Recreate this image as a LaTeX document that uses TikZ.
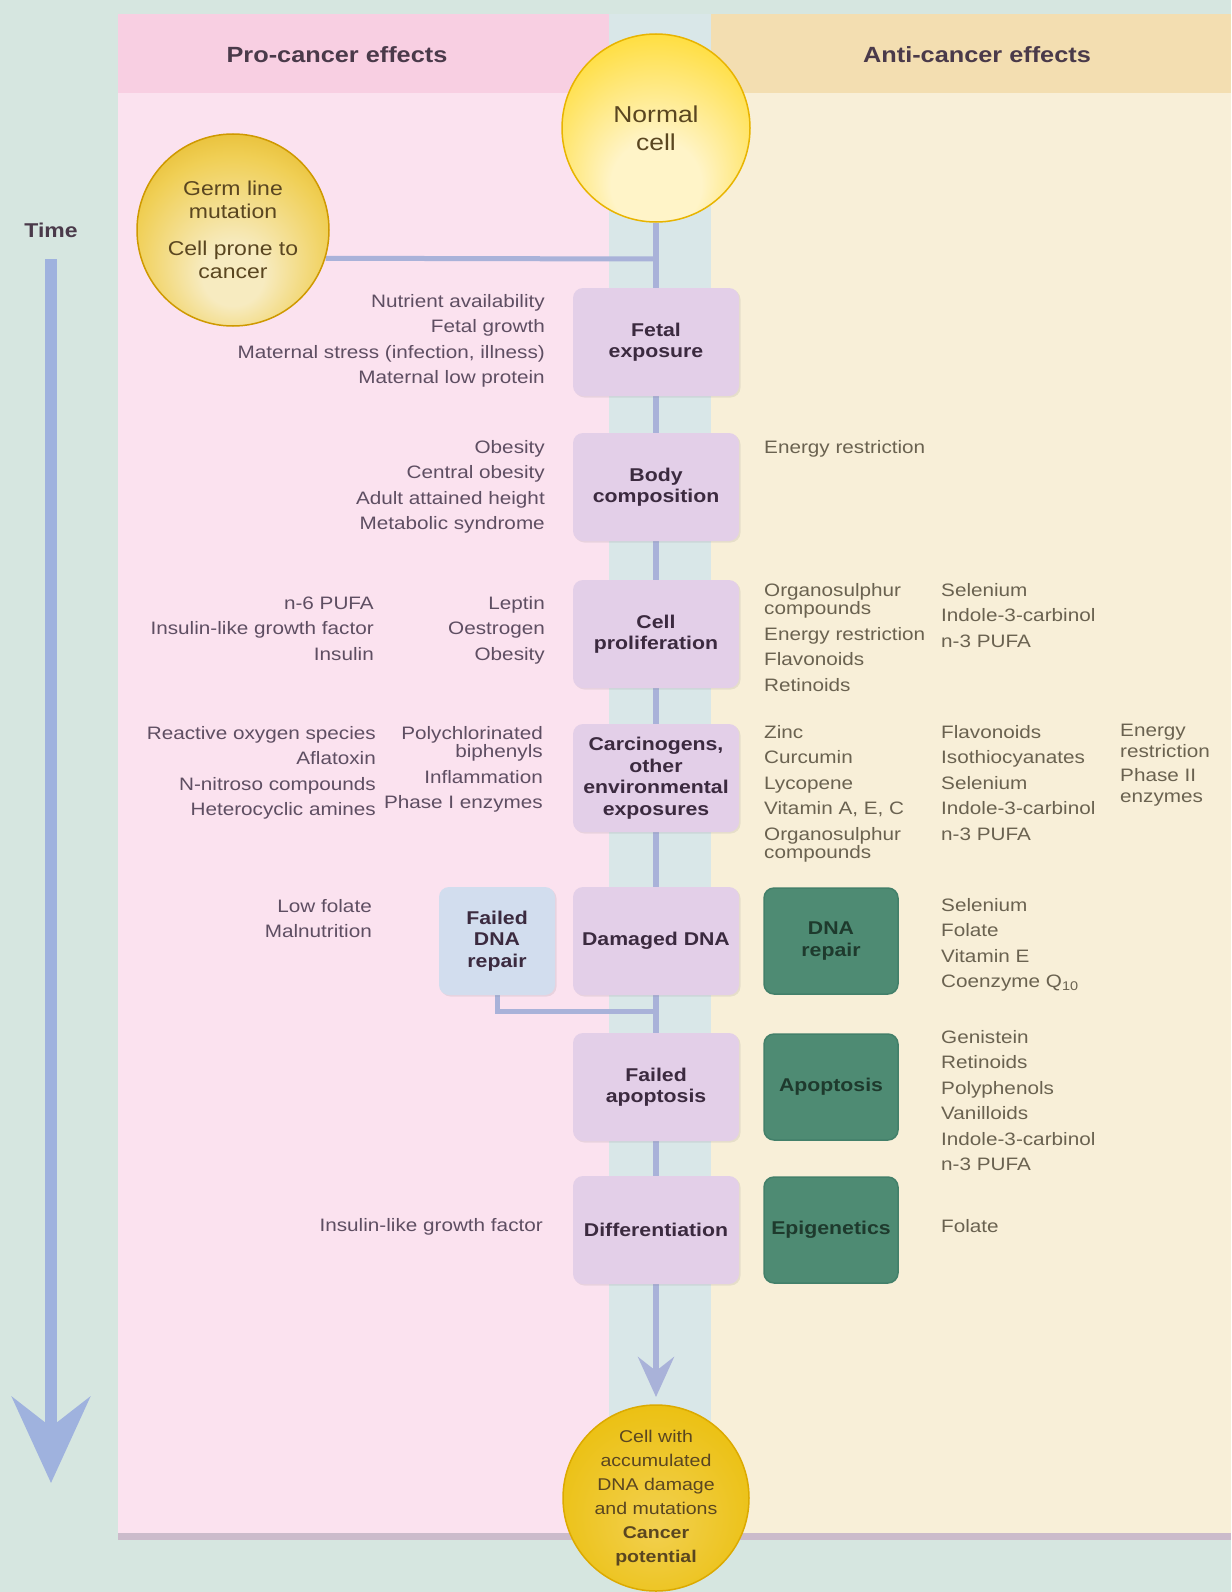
\documentclass[tikz,border=0pt]{standalone}
\usepackage{fontspec}
\setmainfont[FakeStretch=1.15]{Liberation Sans}
\usetikzlibrary{arrows.meta,shadows}
\definecolor{bg}{HTML}{D6E6E0}
\definecolor{strip}{HTML}{D9E7E8}
\definecolor{pinkbody}{HTML}{FBE2EF}
\definecolor{pinkhead}{HTML}{F8CFE2}
\definecolor{creambody}{HTML}{F8EFD8}
\definecolor{creamhead}{HTML}{F3DEB1}
\definecolor{boxp}{HTML}{E3CFE8}
\definecolor{boxblue}{HTML}{D2DDEE}
\definecolor{boxgreen}{HTML}{4E8B73}
\definecolor{greenborder}{HTML}{43806A}
\definecolor{linecol}{HTML}{A9B2D9}
\definecolor{timeblue}{HTML}{9FB2DE}
\definecolor{bottomline}{HTML}{CBBBCB}
\definecolor{lefttext}{HTML}{5E4E62}
\definecolor{righttext}{HTML}{6A6250}
\definecolor{boxtext}{HTML}{3B2A3F}
\definecolor{greentext}{HTML}{1E3A2D}
\definecolor{hdtext}{HTML}{4A3A4A}
\definecolor{celltext}{HTML}{5A4620}
\definecolor{cpale}{HTML}{FFF4C8}
\definecolor{cyellow}{HTML}{FFD81A}
\definecolor{cgold}{HTML}{E8B400}
\definecolor{gpale}{HTML}{F7EBC0}
\definecolor{glight}{HTML}{F0CF55}
\definecolor{ggold}{HTML}{DDAA10}
\definecolor{gdark}{HTML}{CF9900}
\definecolor{bpale}{HTML}{F2D050}
\definecolor{bmid}{HTML}{EBC010}
\definecolor{bgold}{HTML}{DCAA00}
\definecolor{bdark}{HTML}{D09A00}
\pgfdeclareradialshading{ncellshade}{\pgfpoint{0bp}{-20bp}}{color(0bp)=(cpale); color(12bp)=(cpale); color(38bp)=(cyellow); color(46bp)=(cyellow); color(50bp)=(cgold)}
\pgfdeclareradialshading{germshade}{\pgfpoint{0bp}{-14bp}}{color(0bp)=(gpale); color(8bp)=(gpale); color(26bp)=(glight); color(40bp)=(ggold); color(50bp)=(gdark)}
\pgfdeclareradialshading{bcellshade}{\pgfpoint{0bp}{-8bp}}{color(0bp)=(bpale); color(30bp)=(bmid); color(46bp)=(bgold); color(50bp)=(bdark)}
\pgfdeclarelayer{back}
\pgfdeclarelayer{mid}
\pgfsetlayers{back,mid,main}
\newcommand{\Rlist}[1]{\begin{tabular}[t]{@{}r@{}}#1\end{tabular}}
\newcommand{\Llist}[1]{\begin{tabular}[t]{@{}l@{}}#1\end{tabular}}
\newcommand{\itemfont}{\fontsize{18}{25.5}\selectfont}
\newcommand{\boxfont}{\fontsize{18.5}{21.5}\selectfont\bfseries}
\begin{document}
\begin{tikzpicture}[x=1pt,y=-1pt,
  lt/.style={text=lefttext, inner sep=0pt, font=\itemfont},
  rt/.style={text=righttext, inner sep=0pt, font=\itemfont},
  pbox/.style={rounded corners=10pt, fill=boxp, minimum width=166pt, minimum height=108pt, inner sep=0pt, align=center, font=\boxfont, text=boxtext, drop shadow={shadow xshift=1.5pt, shadow yshift=-1.5pt, opacity=0.12, fill=black!60}},
  gbox/.style={rounded corners=10pt, fill=boxgreen, draw=greenborder, line width=1.5pt, minimum width=134pt, minimum height=106pt, inner sep=0pt, align=center, font=\boxfont, text=greentext},
  conn/.style={draw=linecol, line width=6pt},
  cell/.style={circle, inner sep=0pt, draw=cgold, line width=1.5pt, shade, align=center, text=celltext}
]
\useasboundingbox (0,0) rectangle (1231,1592);
\begin{pgfonlayer}{back}
\fill[bg] (0,0) rectangle (1231,1592);
\fill[strip] (609,14) rectangle (711,1534);
\fill[pinkbody] (118,14) rectangle (609,1534);
\fill[pinkhead] (118,14) rectangle (609,93);
\fill[creambody] (711,14) rectangle (1231,1534);
\fill[creamhead] (711,14) rectangle (1231,93);
\draw[bottomline, line width=7pt] (118,1536) -- (1231,1536);
\end{pgfonlayer}

% headers
\node[font=\fontsize{22}{26}\selectfont\bfseries, text=hdtext] (hpro) at (337,55) {Pro-cancer effects};
\node[font=\fontsize{22}{26}\selectfont\bfseries, text=hdtext] (hanti) at (977,55) {Anti-cancer effects};

% time
\node[font=\fontsize{20}{24}\selectfont\bfseries, text=hdtext] (time) at (51,230) {Time};
\coordinate (tstart) at (51,259);
\coordinate (tend) at (51,1483);

% cells
\node[cell, shading=ncellshade, minimum size=188pt, font=\fontsize{23}{28}\selectfont] (ncell) at (656,128) {Normal\\cell};
\node[cell, shading=germshade, draw=gdark, minimum size=192pt, font=\fontsize{20}{23}\selectfont] (germ) at (233,230) {Germ line\\mutation\\[14pt]Cell prone to\\cancer};
\node[cell, shading=bcellshade, draw=bgold, minimum size=186pt, font=\fontsize{17}{24}\selectfont] (bcell) at (656,1498) {Cell with\\accumulated\\DNA damage\\and mutations\\\textbf{Cancer}\\\textbf{potential}};

% main boxes
\node[pbox] (fetal) at (656,342) {Fetal\\exposure};
\node[pbox] (body) at (656,487) {Body\\composition};
\node[pbox] (cprol) at (656,634) {Cell\\proliferation};
\node[pbox] (carc) at (656,778) {Carcinogens,\\other\\environmental\\exposures};
\node[pbox] (dna) at (656,941) {Damaged DNA};
\node[pbox] (fapo) at (656,1087) {Failed\\apoptosis};
\node[pbox] (diff) at (656,1230) {Differentiation};
\node[pbox, fill=boxblue, minimum width=116pt] (fdr) at (497,941) {Failed\\DNA\\repair};
\node[gbox] (rep) at (831,941) {DNA\\repair};
\node[gbox] (apo) at (831,1087) {Apoptosis};
\node[gbox] (epi) at (831,1230) {Epigenetics};

% factor lists
\node[lt, anchor=base east] (fetL) at (545,307) {\Rlist{Nutrient availability\\Fetal growth\\Maternal stress (infection, illness)\\Maternal low protein}};
\node[lt, anchor=base east] (bodL) at (545,453) {\Rlist{Obesity\\Central obesity\\Adult attained height\\Metabolic syndrome}};
\node[rt, anchor=base west] (bodR) at (764,453) {Energy restriction};
\node[lt, anchor=base east] (cpL1) at (374,609) {\Rlist{n-6 PUFA\\Insulin-like growth factor\\Insulin}};
\node[lt, anchor=base east] (cpL2) at (545,609) {\Rlist{Leptin\\Oestrogen\\Obesity}};
\node[rt, anchor=base west] (cpR1) at (764,596) {\Llist{Organosulphur\\[-7pt]compounds\\Energy restriction\\Flavonoids\\Retinoids}};
\node[rt, anchor=base west] (cpR2) at (941,596) {\Llist{Selenium\\Indole-3-carbinol\\n-3 PUFA}};
\node[lt, anchor=base east] (caL1) at (376,739) {\Rlist{Reactive oxygen species\\Aflatoxin\\N-nitroso compounds\\Heterocyclic amines}};
\node[lt, anchor=base east] (caL2) at (543,739) {\Rlist{Polychlorinated\\[-7pt]biphenyls\\Inflammation\\Phase I enzymes}};
\node[rt, anchor=base west] (caR1) at (764,738) {\Llist{Zinc\\Curcumin\\Lycopene\\Vitamin A, E, C\\Organosulphur\\[-7pt]compounds}};
\node[rt, anchor=base west] (caR2) at (941,738) {\Llist{Flavonoids\\Isothiocyanates\\Selenium\\Indole-3-carbinol\\n-3 PUFA}};
\node[rt, anchor=base west] (caR3) at (1120,736) {\Llist{Energy\\[-4pt]restriction\\[-2pt]Phase II\\[-4pt]enzymes}};
\node[lt, anchor=base east] (dnL) at (372,912) {\Rlist{Low folate\\Malnutrition}};
\node[rt, anchor=base west] (dnR) at (941,911) {\Llist{Selenium\\Folate\\Vitamin E\\Coenzyme Q\textsubscript{10}}};
\node[rt, anchor=base west] (apR) at (941,1043) {\Llist{Genistein\\Retinoids\\Polyphenols\\Vanilloids\\Indole-3-carbinol\\n-3 PUFA}};
\node[lt, anchor=base east] (dfL) at (543,1231) {Insulin-like growth factor};
\node[rt, anchor=base west] (dfR) at (941,1232) {Folate};

% connectors
\coordinate (jgerm) at (656,259);
\coordinate (jfdr) at (656,1011);
\coordinate (tip) at (656,1397);
\begin{pgfonlayer}{mid}
\draw[timeblue, line width=12pt, -{Stealth[length=86pt,width=78pt,inset=30pt]}] (tstart) -- (tend);
\draw[conn] (ncell) -- (fetal);
\draw[conn] (fetal) -- (body);
\draw[conn] (body) -- (cprol);
\draw[conn] (cprol) -- (carc);
\draw[conn] (carc) -- (dna);
\draw[conn] (dna) -- (fapo);
\draw[conn] (fapo) -- (diff);
\draw[conn, -{Stealth[length=40pt,width=36pt,inset=14pt]}] (diff) -- (tip);
\draw[conn, line width=5pt] (germ.-17.6) -- (jgerm);
\draw[conn, line width=5pt] (fdr.south) |- (jfdr);
\end{pgfonlayer}
\end{tikzpicture}
\end{document}
